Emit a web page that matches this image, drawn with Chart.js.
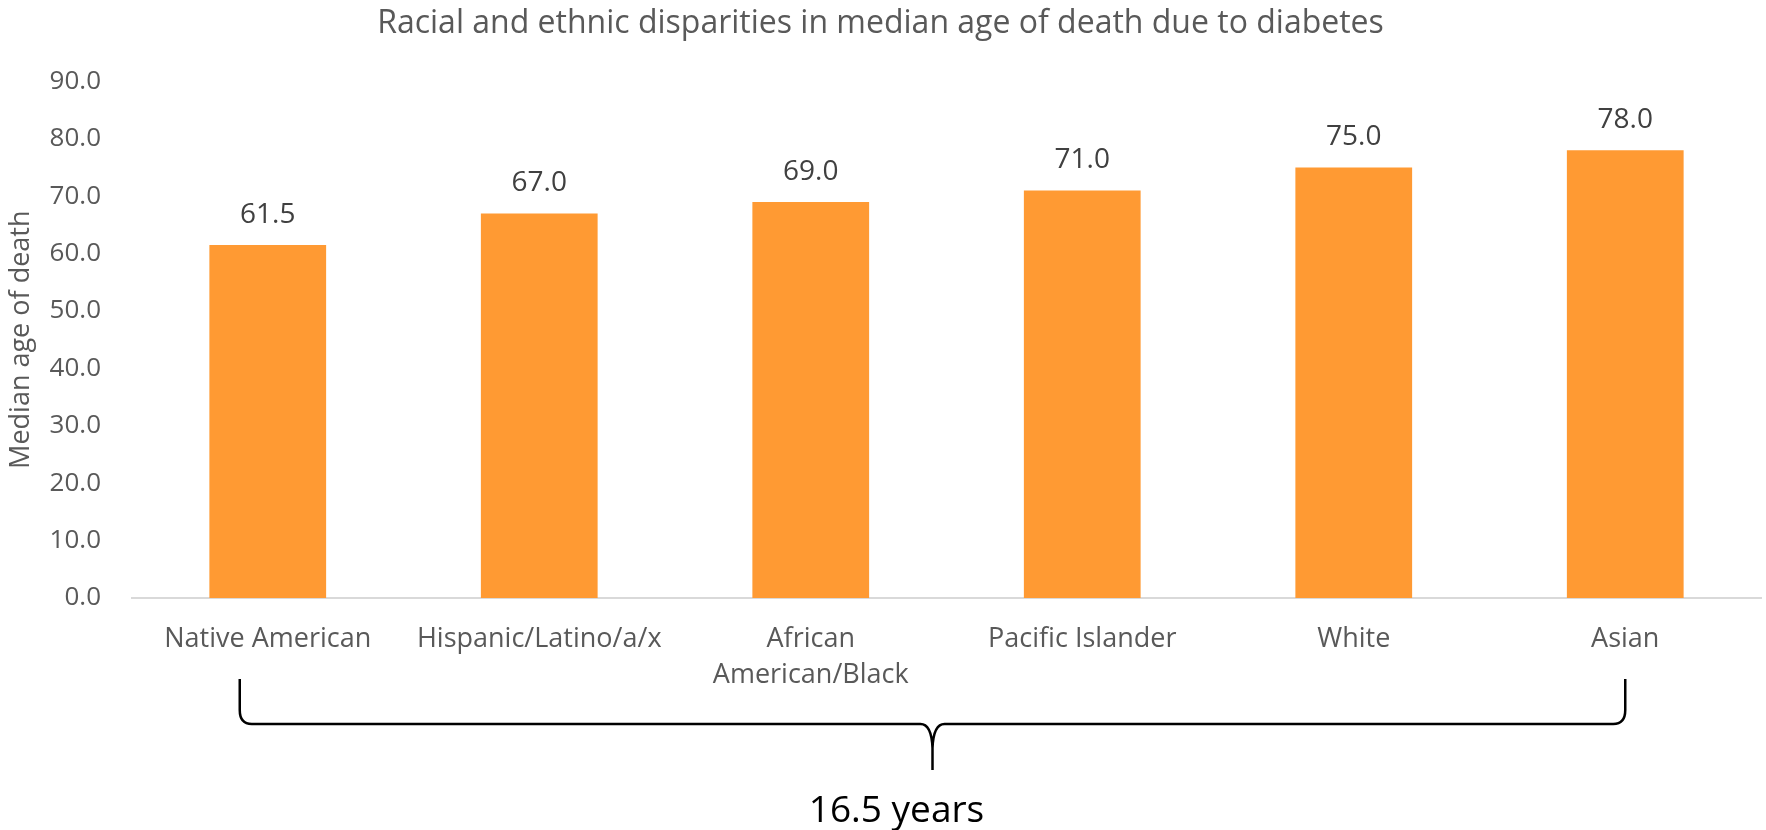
<!DOCTYPE html>
<html>
<head>
<meta charset="utf-8">
<script src="https://cdn.jsdelivr.net/npm/chart.js@4"></script>
<style>
  body { margin: 0; background: #fff; }
  canvas { display: block; }
</style>
</head>
<body>
<canvas id="chartCanvas" width="1766" height="830"></canvas>
<script>
    /********** DATA **********/
    const groups = [
      "Native American",
      "Hispanic/Latino/a/x",
      ["African", "American/Black"],
      "Pacific Islander",
      "White",
      "Asian"
    ];
    const medianAge = [61.5, 67.0, 69.0, 71.0, 75.0, 78.0];
    const gapLabel = "16.5 years";

    const yMin = 0, yMax = 90, yStep = 10;

    Chart.defaults.font.family = "'Open Sans', 'DejaVu Sans', sans-serif";

    /********** VALUE LABELS ABOVE BARS **********/
    const valueLabels = {
      id: 'valueLabels',
      afterDatasetsDraw(chart) {
        const ctx = chart.ctx;
        const meta = chart.getDatasetMeta(0);
        ctx.save();
        ctx.font = "28px 'Open Sans', sans-serif";
        ctx.fillStyle = '#404040';
        ctx.textAlign = 'center';
        ctx.textBaseline = 'middle';
        meta.data.forEach((bar, i) => {
          ctx.fillText(medianAge[i].toFixed(1), bar.x, bar.y - 30);
        });
        ctx.restore();
      }
    };

    /********** BRACE UNDER THE CATEGORIES **********/
    const gapBrace = {
      id: 'gapBrace',
      afterDraw(chart) {
        const ctx = chart.ctx;
        const xs = chart.scales.x;
        const b = chart.chartArea.bottom;
        const L = xs.getPixelForValue(0) - 28;
        const R = xs.getPixelForValue(groups.length - 1);
        const M = (L + R) / 2;
        const top = b + 81, H = b + 126, tip = b + 172;
        ctx.save();
        ctx.strokeStyle = '#000';
        ctx.lineWidth = 2.5;
        ctx.beginPath();
        ctx.moveTo(L, top);
        ctx.lineTo(L, H - 14);
        ctx.quadraticCurveTo(L, H, L + 12, H);
        ctx.lineTo(M - 12, H);
        ctx.quadraticCurveTo(M - 1, H, M, H + 24);
        ctx.lineTo(M, tip);
        ctx.moveTo(M, H + 24);
        ctx.quadraticCurveTo(M + 1, H, M + 12, H);
        ctx.lineTo(R - 12, H);
        ctx.quadraticCurveTo(R, H, R, H - 14);
        ctx.lineTo(R, top);
        ctx.stroke();
        ctx.font = "37px 'Open Sans', sans-serif";
        ctx.fillStyle = '#000';
        ctx.textAlign = 'center';
        ctx.textBaseline = 'middle';
        ctx.fillText(gapLabel, M - 36, b + 213);
        ctx.restore();
      }
    };

    /********** CHART.JS SETUP **********/
    const ctx = document.getElementById("chartCanvas").getContext("2d");
    new Chart(ctx, {
      type: 'bar',
      data: {
        labels: groups,
        datasets: [{
          label: 'Median age of death',
          data: medianAge,
          backgroundColor: '#FF9A33',
          borderWidth: 0,
          categoryPercentage: 1,
          barPercentage: 0.43
        }]
      },
      options: {
        responsive: false,
        animation: false,
        layout: { padding: { left: 0, right: 5, top: 0, bottom: 0 } },
        plugins: {
          legend: { display: false },
          tooltip: { enabled: false },
          title: {
            display: true,
            text: 'Racial and ethnic disparities in median age of death due to diabetes',
            color: '#595959',
            font: { size: 32, weight: 'normal' },
            padding: { top: 5, bottom: 38 }
          }
        },
        scales: {
          x: {
            grid: { display: false, drawTicks: false },
            border: { display: true, color: '#d9d9d9', width: 2 },
            ticks: {
              color: '#595959',
              font: { size: 27, lineHeight: 1.33 },
              padding: 23,
              maxRotation: 0,
              autoSkip: false
            },
            afterFit(scale) { scale.height = 232; }
          },
          y: {
            min: yMin,
            max: yMax,
            grid: { display: false, drawTicks: false },
            border: { display: false },
            ticks: {
              stepSize: yStep,
              color: '#595959',
              font: { size: 26 },
              padding: 31,
              callback: v => v.toFixed(1)
            },
            title: {
              display: true,
              text: 'Median age of death',
              color: '#595959',
              font: { size: 27, weight: 'normal' },
              padding: { top: 5, bottom: 0 }
            },
            afterFit(scale) { scale.width = 132; }
          }
        }
      },
      plugins: [valueLabels, gapBrace]
    });
</script>
</body>
</html>
